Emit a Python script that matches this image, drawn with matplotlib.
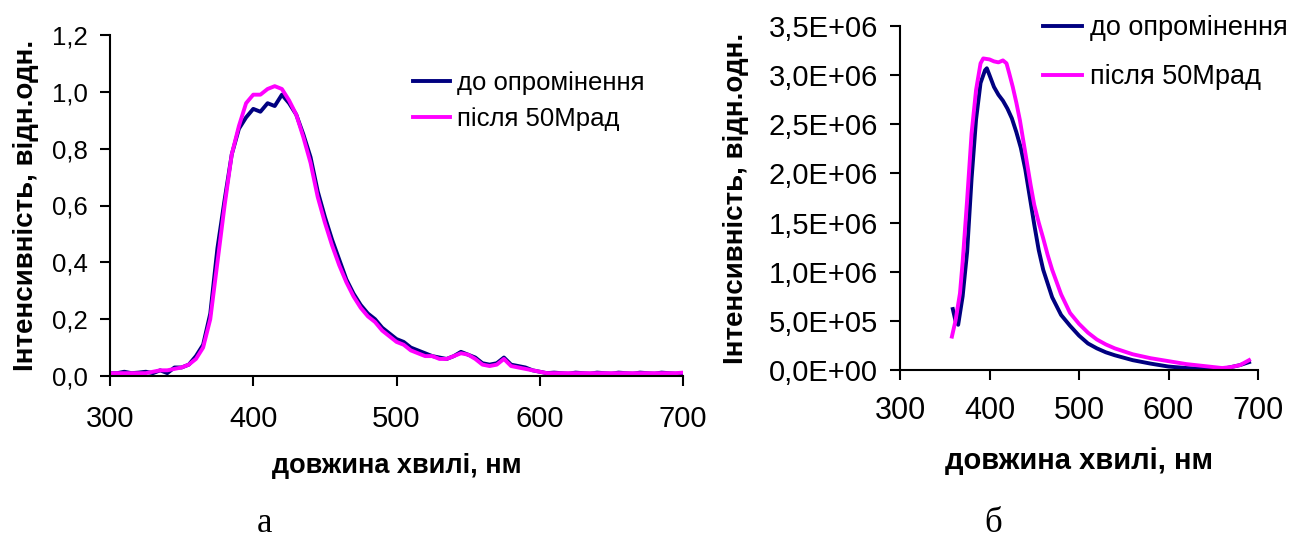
import matplotlib
matplotlib.use("Agg")
import matplotlib.pyplot as plt

plt.rcParams['font.family'] = ['Liberation Sans', 'DejaVu Sans']

# --- panel a: normalised spectra ---
wl_a = [300, 305, 310, 315, 320, 325, 330, 335, 340, 345, 350, 355, 360, 365, 370,
        375, 380, 385, 390, 395, 400, 405, 410, 415, 420, 425, 430, 435, 440, 445,
        450, 455, 460, 465, 470, 475, 480, 485, 490, 495, 500, 505, 510, 515, 520,
        525, 530, 535, 540, 545, 550, 555, 560, 565, 570, 575, 580, 585, 590, 595,
        600, 605, 610, 615, 620, 625, 630, 635, 640, 645, 650, 655, 660, 665, 670,
        675, 680, 685, 690, 695, 700]
before_a = [0.010, 0.010, 0.015, 0.010, 0.012, 0.015, 0.010, 0.020, 0.010, 0.030,
            0.030, 0.040, 0.070, 0.110, 0.220, 0.450, 0.620, 0.780, 0.870, 0.910,
            0.940, 0.930, 0.960, 0.950, 0.990, 0.960, 0.920, 0.850, 0.770, 0.650,
            0.560, 0.480, 0.410, 0.340, 0.290, 0.250, 0.220, 0.200, 0.170, 0.150,
            0.130, 0.120, 0.100, 0.090, 0.080, 0.070, 0.065, 0.060, 0.070, 0.085,
            0.075, 0.065, 0.045, 0.040, 0.045, 0.065, 0.040, 0.035, 0.030, 0.020,
            0.015, 0.010, 0.012, 0.010, 0.008, 0.012, 0.010, 0.008, 0.012, 0.010,
            0.008, 0.012, 0.010, 0.008, 0.012, 0.010, 0.008, 0.012, 0.010, 0.008,
            0.010]
after_a = [0.010, 0.010, 0.010, 0.010, 0.010, 0.010, 0.015, 0.020, 0.020, 0.025,
           0.030, 0.040, 0.060, 0.100, 0.200, 0.400, 0.600, 0.780, 0.880, 0.960,
           0.990, 0.990, 1.010, 1.020, 1.010, 0.970, 0.920, 0.840, 0.750, 0.630,
           0.540, 0.460, 0.390, 0.330, 0.280, 0.240, 0.210, 0.190, 0.160, 0.140,
           0.120, 0.110, 0.090, 0.080, 0.070, 0.070, 0.060, 0.060, 0.070, 0.080,
           0.075, 0.060, 0.040, 0.035, 0.040, 0.060, 0.035, 0.030, 0.025, 0.020,
           0.015, 0.010, 0.010, 0.010, 0.010, 0.010, 0.010, 0.010, 0.010, 0.010,
           0.010, 0.010, 0.010, 0.010, 0.010, 0.010, 0.010, 0.010, 0.010, 0.010,
           0.012]

# --- panel b: absolute spectra ---
wl_b_before = [359, 362, 365, 370, 375, 380, 385, 390, 395, 397, 400, 405, 410, 415,
               420, 425, 430, 435, 440, 445, 450, 455, 460, 465, 470, 480, 490, 500,
               510, 520, 530, 540, 560, 580, 600, 620, 640, 660, 670, 680, 690]
before_b = [0.62e6, 0.50e6, 0.46e6, 0.75e6, 1.20e6, 1.95e6, 2.55e6, 2.92e6, 3.05e6,
            3.07e6, 3.00e6, 2.88e6, 2.80e6, 2.74e6, 2.66e6, 2.56e6, 2.42e6, 2.26e6,
            2.04e6, 1.76e6, 1.48e6, 1.22e6, 1.02e6, 0.88e6, 0.74e6, 0.56e6, 0.45e6,
            0.35e6, 0.27e6, 0.22e6, 0.18e6, 0.15e6, 0.10e6, 0.065e6, 0.035e6, 0.02e6,
            0.01e6, 0.01e6, 0.03e6, 0.05e6, 0.08e6]
wl_b_after = [358, 362, 367, 370, 375, 380, 385, 390, 393, 400, 405, 410, 415, 419,
              422, 426, 430, 434, 438, 442, 446, 450, 455, 460, 465, 470, 480, 490,
              500, 510, 520, 530, 540, 550, 560, 580, 600, 620, 640, 660, 670, 680, 690]
after_b = [0.34e6, 0.50e6, 0.78e6, 1.10e6, 1.73e6, 2.41e6, 2.85e6, 3.12e6, 3.17e6,
           3.16e6, 3.14e6, 3.13e6, 3.15e6, 3.12e6, 3.02e6, 2.88e6, 2.72e6, 2.54e6,
           2.32e6, 2.10e6, 1.88e6, 1.68e6, 1.50e6, 1.34e6, 1.17e6, 1.02e6, 0.77e6,
           0.58e6, 0.47e6, 0.38e6, 0.31e6, 0.26e6, 0.22e6, 0.19e6, 0.16e6, 0.12e6,
           0.09e6, 0.06e6, 0.04e6, 0.02e6, 0.03e6, 0.05e6, 0.10e6]

x_ticks = [300, 400, 500, 600, 700]
y_ticks_a = [0.0, 0.2, 0.4, 0.6, 0.8, 1.0, 1.2]
y_labels_a = ['0,0', '0,2', '0,4', '0,6', '0,8', '1,0', '1,2']
y_ticks_b = [0, 0.5e6, 1.0e6, 1.5e6, 2.0e6, 2.5e6, 3.0e6, 3.5e6]
y_labels_b = ['0,0E+00', '5,0E+05', '1,0E+06', '1,5E+06', '2,0E+06',
              '2,5E+06', '3,0E+06', '3,5E+06']

series_names = ['до опромінення', 'після 50Мрад']
colors = ['#000080', '#FF00FF']

W, H = 1303, 544
fig = plt.figure(figsize=(W / 100, H / 100), dpi=100)

ax1 = fig.add_axes([110 / W, 1 - 376 / H, 573 / W, 341 / H])
ax2 = fig.add_axes([900 / W, 1 - 370 / H, 358 / W, 344 / H])


def style_axis(ax, xfs, yfs, xpad):
    for side in ['top', 'right']:
        ax.spines[side].set_visible(False)
    for side in ['left', 'bottom']:
        ax.spines[side].set_linewidth(1.5)
    ax.tick_params(direction='out', length=7, width=1.5, color='black')
    ax.tick_params(axis='x', labelsize=xfs, pad=xpad)
    ax.tick_params(axis='y', labelsize=yfs, pad=9)


ax1.plot(wl_a, before_a, color=colors[0], lw=2.8, label=series_names[0])
ax1.plot(wl_a, after_a, color=colors[1], lw=2.8, label=series_names[1])
ax1.set_xlim(300, 700)
ax1.set_ylim(0, 1.2)
ax1.set_xticks(x_ticks)
ax1.set_yticks(y_ticks_a)
ax1.set_yticklabels(y_labels_a)
style_axis(ax1, 21, 18.5, 14)
ax1.set_xlabel('довжина хвилі, нм', fontsize=19.5, fontweight='bold', labelpad=14)
ax1.set_ylabel('Інтенсивність, відн.одн.', fontsize=20, fontweight='bold', labelpad=9)
ax1.legend(loc='upper left', bbox_to_anchor=(413 / W, 1 - 71 / H),
           bbox_transform=fig.transFigure, frameon=False, fontsize=18.5,
           handlelength=1.45, handletextpad=0.25, labelspacing=0.45,
           borderpad=0, borderaxespad=0)

ax2.plot(wl_b_before, before_b, color=colors[0], lw=2.8, label=series_names[0])
ax2.plot(wl_b_after, after_b, color=colors[1], lw=2.8, label=series_names[1])
ax2.set_xlim(300, 700)
ax2.set_ylim(0, 3.5e6)
ax2.set_xticks(x_ticks)
ax2.set_yticks(y_ticks_b)
ax2.set_yticklabels(y_labels_b)
style_axis(ax2, 22, 21, 12)
ax2.set_xlabel('довжина хвилі, нм', fontsize=21, fontweight='bold', labelpad=15)
ax2.set_ylabel('Інтенсивність, відн.одн.', fontsize=20, fontweight='bold', labelpad=14)
ax2.legend(loc='upper left', bbox_to_anchor=(1043 / W, 1 - 15 / H),
           bbox_transform=fig.transFigure, frameon=False, fontsize=19.5,
           handlelength=1.45, handletextpad=0.3, labelspacing=0.85,
           borderpad=0, borderaxespad=0)

fig.text(265 / W, 1 - 524 / H, 'а', fontsize=25, family='Liberation Serif',
         ha='center', va='center')
fig.text(993 / W, 1 - 524 / H, 'б', fontsize=25, family='Liberation Serif',
         ha='center', va='center')

fig.savefig('out.png', dpi=100)
